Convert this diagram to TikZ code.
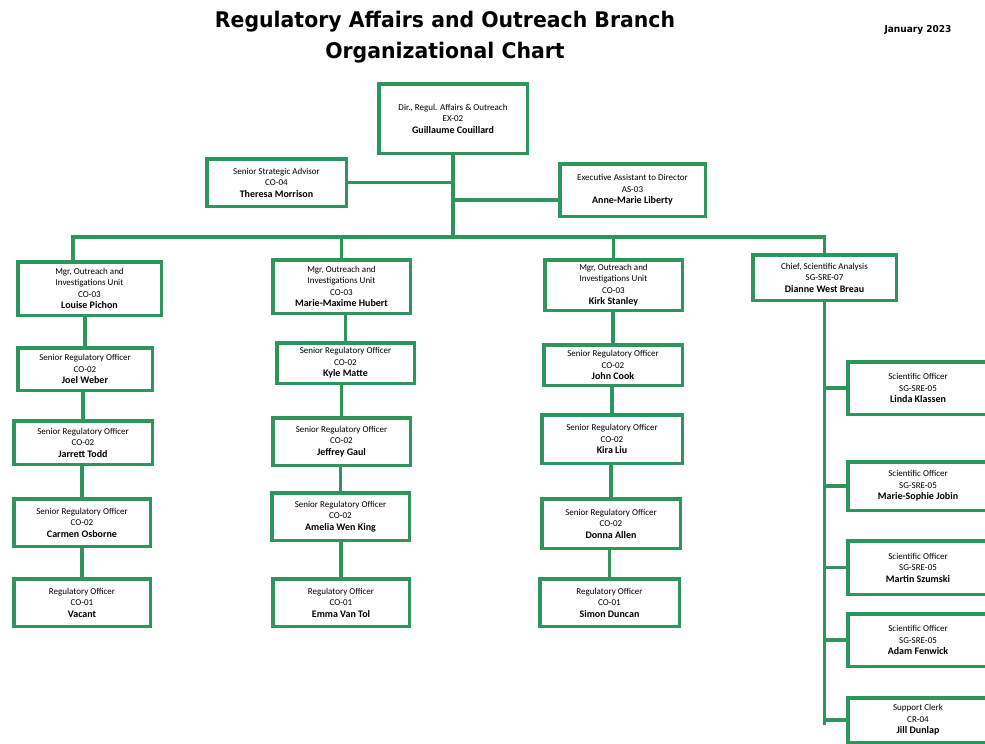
\documentclass[tikz,border=0pt]{standalone}
\usepackage{fontspec}
\setmainfont{Carlito}
\newfontfamily\titlefont{DejaVu Sans}[FakeStretch=0.95]
\usepackage{tikz}
\definecolor{rabgreen}{RGB}{46,150,92}
\newcommand{\who}[1]{{\fontsize{10}{11.5}\selectfont\bfseries #1}}

\begin{document}
\begin{tikzpicture}[x=1pt, y=-1pt,
  post/.style={draw=rabgreen, line width=3.5pt, fill=white, align=center, inner sep=2pt,
    font=\fontsize{9}{11.5}\selectfont},
  boxdim/.style 2 args={minimum width=#1pt, minimum height=#2pt},
  link/.style={draw=rabgreen, line width=3.5pt},
  heading/.style={align=center, font=\titlefont\bfseries\fontsize{21.5}{31}\selectfont}]
\useasboundingbox (0,0) rectangle (985,744);

\node[heading] (title) at (445,37) {Regulatory Affairs and Outreach Branch\\Organizational Chart};
\node[font=\titlefont\bfseries\fontsize{9.5}{11}\selectfont] (date) at (918,30) {January 2023};

% director and staff
\node[post, boxdim={148.5}{69.5}] (dir) at (453,118.5) {Dir., Regul. Affairs \& Outreach\\EX-02\\\who{Guillaume Couillard}};
\node[post, boxdim={139.5}{47.5}] (ssa) at (276.5,182.5) {Senior Strategic Advisor\\CO-04\\\who{Theresa Morrison}};
\node[post, boxdim={145.5}{52.5}] (ea) at (632.5,190) {Executive Assistant to Director\\AS-03\\\who{Anne-Marie Liberty}};

% managers
\node[post, boxdim={143.5}{53.5}] (m1) at (89.5,288.5) {Mgr, Outreach and\\Investigations Unit\\CO-03\\\who{Louise Pichon}};
\node[post, boxdim={137.5}{53.5}] (m2) at (341.5,286.5) {Mgr, Outreach and\\Investigations Unit\\CO-03\\\who{Marie-Maxime Hubert}};
\node[post, boxdim={137.5}{50.5}] (m3) at (613.5,285) {Mgr, Outreach and\\Investigations Unit\\CO-03\\\who{Kirk Stanley}};
\node[post, boxdim={143.5}{45.5}] (chief) at (824.5,277.5) {Chief, Scientific Analysis\\SG-SRE-07\\\who{Dianne West Breau}};

% unit 1
\node[post, boxdim={134.5}{42.5}] (s11) at (85,369) {Senior Regulatory Officer\\CO-02\\\who{Joel Weber}};
\node[post, boxdim={138.5}{43.5}] (s12) at (83,442.5) {Senior Regulatory Officer\\CO-02\\\who{Jarrett Todd}};
\node[post, boxdim={136.5}{47.5}] (s13) at (82,522.5) {Senior Regulatory Officer\\CO-02\\\who{Carmen Osborne}};
\node[post, boxdim={136.5}{47.5}] (s14) at (82,602.5) {Regulatory Officer\\CO-01\\\who{Vacant}};

% unit 2
\node[post, boxdim={137.5}{40.5}] (s21) at (345.5,363) {Senior Regulatory Officer\\CO-02\\\who{Kyle Matte}};
\node[post, boxdim={137.5}{47.5}] (s22) at (341.5,441.5) {Senior Regulatory Officer\\CO-02\\\who{Jeffrey Gaul}};
\node[post, boxdim={137.5}{47.5}] (s23) at (340.5,516.5) {Senior Regulatory Officer\\CO-02\\\who{Amelia Wen King}};
\node[post, boxdim={136.5}{47.5}] (s24) at (341,602.5) {Regulatory Officer\\CO-01\\\who{Emma Van Tol}};

% unit 3
\node[post, boxdim={138.5}{40.5}] (s31) at (613,365) {Senior Regulatory Officer\\CO-02\\\who{John Cook}};
\node[post, boxdim={140.5}{48.5}] (s32) at (612,439) {Senior Regulatory Officer\\CO-02\\\who{Kira Liu}};
\node[post, boxdim={138.5}{49.5}] (s33) at (611,523.5) {Senior Regulatory Officer\\CO-02\\\who{Donna Allen}};
\node[post, boxdim={139.5}{47.5}] (s34) at (609.5,602.5) {Regulatory Officer\\CO-01\\\who{Simon Duncan}};

% scientific analysis
\node[post, boxdim={140}{52.5}] (sc1) at (918,388) {Scientific Officer\\SG-SRE-05\\\who{Linda Klassen}};
\node[post, boxdim={140}{48.5}] (sc2) at (918,486) {Scientific Officer\\SG-SRE-05\\\who{Marie-Sophie Jobin}};
\node[post, boxdim={140}{53.5}] (sc3) at (918,567.5) {Scientific Officer\\SG-SRE-05\\\who{Martin Szumski}};
\node[post, boxdim={140}{52.5}] (sc4) at (918,640) {Scientific Officer\\SG-SRE-05\\\who{Adam Fenwick}};
\node[post, boxdim={140}{44.5}] (clerk) at (918,720) {Support Clerk\\CR-04\\\who{Jill Dunlap}};

\coordinate (bw) at (73,237);
\coordinate (spineend) at (824.5,725);

\draw[link] (dir.south) -- (dir.south |- bw);
\draw[link] (ssa.east) -- (ssa.east -| dir.south);
\draw[link] ([yshift=-10pt]ea.west) -- ([yshift=-10pt]ea.west -| dir.south);
\draw[link] (bw |- m1.north) -- (bw) -- (bw -| chief.north) -- (chief.north);
\draw[link] (m2.north |- bw) -- (m2.north);
\draw[link] (m3.north |- bw) -- (m3.north);

\draw[link] (s11.north) -- (s11.north |- m1.south);
\draw[link] (s12.north) -- (s12.north |- s11.south);
\draw[link] (s13.north) -- (s13.north |- s12.south);
\draw[link] (s14.north) -- (s14.north |- s13.south);

\draw[link] (s21.north) -- (s21.north |- m2.south);
\draw[link] (s22.north) -- (s22.north |- s21.south);
\draw[link] (s23.north) -- (s23.north |- s22.south);
\draw[link] (s24.north) -- (s24.north |- s23.south);

\draw[link] (s31.north) -- (s31.north |- m3.south);
\draw[link] (s32.north) -- (s32.north |- s31.south);
\draw[link] (s33.north) -- (s33.north |- s32.south);
\draw[link] (s34.north) -- (s34.north |- s33.south);

\draw[link] (chief.south) -- (spineend);
\draw[link] (spineend |- sc1.west) -- (sc1.west);
\draw[link] (spineend |- sc2.west) -- (sc2.west);
\draw[link] (spineend |- sc3.west) -- (sc3.west);
\draw[link] (spineend |- sc4.west) -- (sc4.west);
\draw[link] (spineend |- clerk.west) -- (clerk.west);
\end{tikzpicture}
\end{document}
